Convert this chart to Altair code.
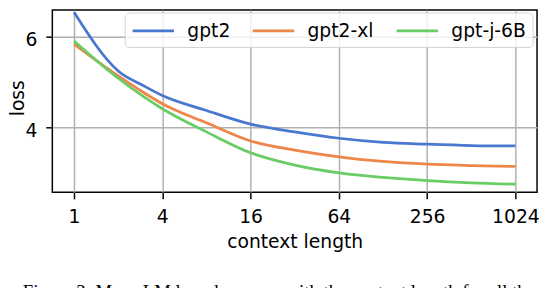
import altair as alt
import pandas as pd

# ---- data ----
context = [1, 2, 3, 4, 8, 16, 32, 64, 128, 256, 512, 1024]
models = ["gpt2", "gpt2-xl", "gpt-j-6B"]
colors = ["#4878D0", "#EE854A", "#6ACC64"]
loss_gpt2 = [6.53, 5.24, 4.91, 4.70, 4.37, 4.07, 3.90, 3.76, 3.67, 3.63, 3.60, 3.59]
loss_gpt2_xl = [5.83, 5.13, 4.76, 4.52, 4.10, 3.70, 3.50, 3.35, 3.25, 3.19, 3.16, 3.14]
loss_gptj = [5.90, 5.08, 4.67, 4.41, 3.90, 3.44, 3.17, 3.00, 2.90, 2.83, 2.78, 2.75]
x_ticks = [1, 4, 16, 64, 256, 1024]
y_ticks = [4, 6]
caption = "Figure 3: Mean LM loss decreases with the context length for all the models"

rows = []
for name, series in zip(models, [loss_gpt2, loss_gpt2_xl, loss_gptj]):
    for c, v in zip(context, series):
        rows.append({"context": c, "loss": v, "model": name})
df = pd.DataFrame(rows)

FONT = "DejaVu Sans"
FS = 19

chart = (
    alt.Chart(df)
    .mark_line(strokeWidth=2.8, interpolate="monotone")
    .encode(
        x=alt.X(
            "context:Q",
            scale=alt.Scale(type="log", base=2, domain=[0.711, 1439], nice=False, zero=False),
            axis=alt.Axis(
                values=x_ticks,
                format="d",
                title="context length",
                titlePadding=6,
                labelPadding=9,
                labelFlush=False,
            ),
        ),
        y=alt.Y(
            "loss:Q",
            scale=alt.Scale(domain=[2.57, 6.58], nice=False, zero=False),
            axis=alt.Axis(
                values=y_ticks,
                format="d",
                title="loss",
                titleAngle=270,
                titleX=-29,
                titleY=89,
                titleAlign="center",
                titleBaseline="alphabetic",
                labelPadding=9,
                labelOffset=3,
            ),
        ),
        color=alt.Color(
            "model:N",
            sort=models,
            scale=alt.Scale(domain=models, range=colors),
            legend=alt.Legend(
                title=None,
                orient="none",
                legendX=73.5,
                legendY=2.5,
                direction="horizontal",
                columns=3,
                symbolType="M-1,0H3",
                symbolSize=441,
                symbolStrokeWidth=2.8,
                symbolFillColor="transparent",
                labelFontSize=FS,
                labelFont=FONT,
                labelColor="#000000",
                labelOffset=33,
                columnPadding=16,
                padding=6.5,
                fillColor="rgba(255,255,255,0.8)",
                strokeColor="#d4d4d4",
                cornerRadius=4,
            ),
        ),
    )
    .properties(
        width=492,
        height=185,
        autosize=alt.AutoSizeParams(type="none"),
        padding={"left": 45, "top": 0, "right": 3, "bottom": 95},
        title=alt.TitleParams(
            text=caption,
            orient="bottom",
            anchor="start",
            frame="group",
            dx=-30,
            offset=33,
            font="Liberation Serif",
            fontSize=19,
            fontWeight="normal",
            color="#000000",
        ),
    )
    .configure(font=FONT)
    .configure_view(stroke="#000000", strokeWidth=1.5)
    .configure_axis(
        labelFont=FONT,
        titleFont=FONT,
        labelFontSize=FS,
        titleFontSize=FS,
        titleFontWeight="normal",
        labelColor="#000000",
        titleColor="#000000",
        tickColor="#000000",
        tickSize=6.6,
        tickWidth=1.5,
        domain=False,
        grid=True,
        gridColor="#b0b0b0",
        gridWidth=1.5,
    )
)

chart.save("out.html", embed_options={"renderer": "svg", "actions": False})
